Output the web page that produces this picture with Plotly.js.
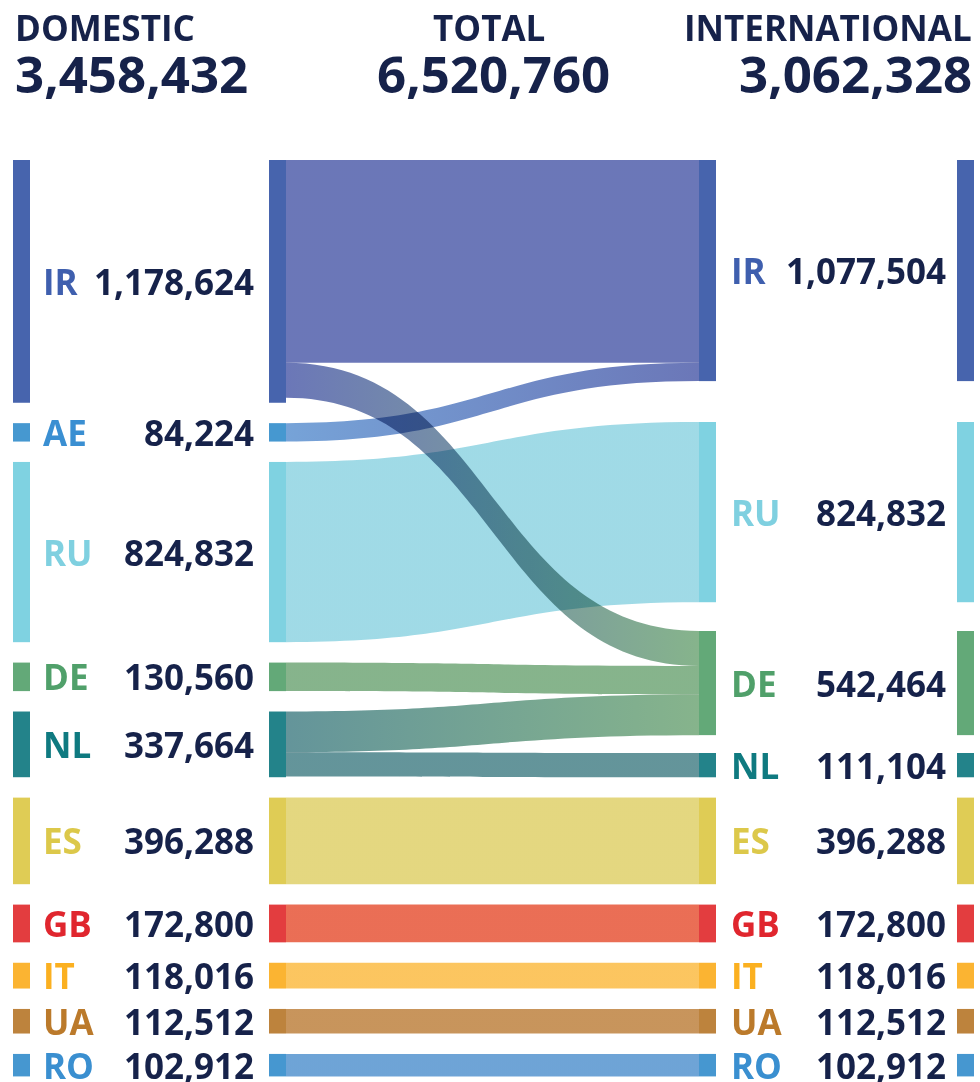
<!DOCTYPE html>
<html><head><meta charset="utf-8">
<script src="https://cdn.plot.ly/plotly-3.0.1.min.js"></script>
<style>html,body{margin:0;padding:0;background:#fff;} #chart{width:980px;height:1082px;}</style>
</head><body><div id="chart"></div>
<script>
// ---------------- data ----------------
const countries = ['IR','AE','RU','DE','NL','ES','GB','IT','UA','RO'];
const domesticLabels = ['1,178,624','84,224','824,832','130,560','337,664','396,288','172,800','118,016','112,512','102,912'];
const intlCountries = ['IR','RU','DE','NL','ES','GB','IT','UA','RO'];
const intlLabels = ['1,077,504','824,832','542,464','111,104','396,288','172,800','118,016','112,512','102,912'];
// domestic bar sizes
const domesticValues = [1111000, 84224, 824832, 130560, 300700, 396288, 172800, 118016, 112512, 102912];
const flowSource = ['IR','IR','AE','RU','DE','NL','NL','ES','GB','IT','UA','RO'];
const flowTarget = ['IR','DE','IR','RU','DE','DE','NL','ES','GB','IT','UA','RO'];
const flowValues = [927700, 160000, 84224, 824832, 130560, 186000, 111104, 396288, 172800, 118016, 112512, 102912];
const headerTitles = ['DOMESTIC','TOTAL','INTERNATIONAL'];
const headerValues = ['3,458,432','6,520,760','3,062,328'];

// ---------------- styles ----------------
const nodeColors = {IR:'#4764ad',AE:'#4698d0',RU:'#7fd2e1',DE:'#63a978',NL:'#23838a',ES:'#dfcc55',GB:'#e33d3f',IT:'#fbb432',UA:'#bd833d',RO:'#4697d0'};
const labelColors = {IR:'#3f5fae',AE:'#3a8fd2',RU:'#7fd0e0',DE:'#50a06a',NL:'#0f7a80',ES:'#dcc84a',GB:'#e0262e',IT:'#fbb020',UA:'#bb7a2b',RO:'#3a8fd0'};
const linkColors = {IR:'#4655a6',AE:'#548cce',RU:'#88d1e0',DE:'#68a16f',NL:'#3d7a81',ES:'#ddcd60',GB:'#e54a2b',IT:'#fbb738',UA:'#ba7a33',RO:'#4a8dcc'};
const navy = '#16224a';
const W = 980, H = 1082;
const pxPerUnit = 2.185e-4;
const topPx = 160, gapPx = 20.4, thick = 17;
const colCenters = [21.5, 277.5, 707.5, 965.5];
const rightTopOverride = {IR:160, RU:422, DE:631, NL:753};

// ---------------- build sankey ----------------
const outSum = {}, inSum = {};
flowSource.forEach((s,i)=>{ outSum[s]=(outSum[s]||0)+flowValues[i]; const t=flowTarget[i]; inSum[t]=(inSum[t]||0)+flowValues[i]; });
const leftVal = countries.map((c,i)=>Math.max(domesticValues[i], outSum[c]||0));
const rightVal = intlCountries.map(c=>inSum[c]);

const leftTop = {}, leftCenter = {};
let y = topPx;
countries.forEach((c,i)=>{ const h = leftVal[i]*pxPerUnit; leftTop[c]=y; leftCenter[c]=y+h/2; y += h + gapPx; });
const rightCenter = {};
intlCountries.forEach((c,j)=>{ const t = (c in rightTopOverride) ? rightTopOverride[c] : leftTop[c]; rightCenter[c] = t + rightVal[j]*pxPerUnit/2; });

const nL = countries.length, nR = intlCountries.length;
const nodeX = [], nodeY = [], nodeCol = [], nodeLab = [];
countries.forEach(c=>{ nodeX.push(colCenters[0]/W); nodeY.push(leftCenter[c]/H); nodeCol.push(nodeColors[c]); nodeLab.push(''); });
countries.forEach(c=>{ nodeX.push(colCenters[1]/W); nodeY.push(leftCenter[c]/H); nodeCol.push(nodeColors[c]); nodeLab.push(''); });
intlCountries.forEach(c=>{ nodeX.push(colCenters[2]/W); nodeY.push(rightCenter[c]/H); nodeCol.push(nodeColors[c]); nodeLab.push(''); });
intlCountries.forEach(c=>{ nodeX.push(colCenters[3]/W); nodeY.push(rightCenter[c]/H); nodeCol.push(nodeColors[c]); nodeLab.push(''); });

const src=[], tgt=[], val=[], lcol=[], linkMeta=[];
countries.forEach((c,i)=>{ src.push(i); tgt.push(nL+i); val.push(leftVal[i]); lcol.push('rgba(0,0,0,0)'); linkMeta.push(null); });
flowSource.forEach((s,i)=>{ const t=flowTarget[i]; src.push(nL+countries.indexOf(s)); tgt.push(2*nL+intlCountries.indexOf(t)); val.push(flowValues[i]); lcol.push(linkColors[s]); linkMeta.push([linkColors[s], linkColors[t]]); });
intlCountries.forEach((c,j)=>{ src.push(2*nL+j); tgt.push(2*nL+nR+j); val.push(rightVal[j]); lcol.push('rgba(0,0,0,0)'); linkMeta.push(null); });

const S0 = leftVal.reduce((a,b)=>a+b,0);
const pad = (H - pxPerUnit*S0)/(nL-1);

const data = [{
  type:'sankey', arrangement:'fixed', orientation:'h',
  domain:{x:[0,1], y:[0,1]},
  hoverinfo:'none',
  node:{ label:nodeLab, x:nodeX, y:nodeY, color:nodeCol, thickness:thick, pad:pad, line:{width:0}, hoverinfo:'none' },
  link:{ source:src, target:tgt, value:val, color:lcol, line:{width:0}, hoverinfo:'none' }
}];

// ---------------- text ----------------
const ann = [];
const font = (size,color)=>({family:'Open Sans', size:size, color:color, weight:700});
function addText(text,xpx,ypx,xanchor,size,color){
  ann.push({text:text, xref:'paper', yref:'paper', x:xpx/W, y:1-ypx/H, xanchor:xanchor, yanchor:'middle', showarrow:false, borderpad:0, borderwidth:0, font:font(size,color)});
}
countries.forEach((c,i)=>{ addText(c, 43, leftCenter[c], 'left', 35, labelColors[c]); addText(domesticLabels[i], 253.5, leftCenter[c], 'right', 35, navy); });
intlCountries.forEach((c,j)=>{ addText(c, 731, rightCenter[c], 'left', 35, labelColors[c]); addText(intlLabels[j], 946, rightCenter[c], 'right', 35, navy); });
addText(headerTitles[0], 15, 28, 'left', 35, navy);
addText(headerTitles[1], 489, 28, 'center', 35, navy);
addText(headerTitles[2], 972, 28, 'right', 35, navy);
addText(headerValues[0], 15, 72.5, 'left', 51, navy);
addText(headerValues[1], 493, 72.5, 'center', 51, navy);
addText(headerValues[2], 972, 72.5, 'right', 51, navy);

const layout = { width:W, height:H, margin:{l:0,r:0,t:0,b:0}, paper_bgcolor:'#fff', plot_bgcolor:'#fff', annotations:ann, font:{family:'Open Sans'} };

Plotly.newPlot('chart', data, layout, {staticPlot:true, displayModeBar:false}).then(gd=>{
  const ns='http://www.w3.org/2000/svg';
  const svg = gd.querySelector('.main-svg');
  let defs = svg.querySelector('defs');
  if(!defs){ defs=document.createElementNS(ns,'defs'); svg.insertBefore(defs, svg.firstChild); }
  gd.querySelectorAll('.sankey-link').forEach((p,i)=>{
    const d = p.__data__;
    const idx = (d && d.link && d.link.pointNumber!=null) ? d.link.pointNumber : i;
    const m = linkMeta[idx];
    if(!m) return;
    const g = document.createElementNS(ns,'linearGradient');
    g.setAttribute('id','lg'+idx);
    g.setAttribute('x1','0'); g.setAttribute('x2','1'); g.setAttribute('y1','0'); g.setAttribute('y2','0');
    [[0,m[0]],[1,m[1]]].forEach(([o,c])=>{ const s=document.createElementNS(ns,'stop'); s.setAttribute('offset',o); s.setAttribute('stop-color',c); g.appendChild(s); });
    defs.appendChild(g);
    p.style.fill = 'url(#lg'+idx+')';
    p.style.fillOpacity = '0.8';
    p.style.mixBlendMode = 'multiply';
  });
});
</script>
</body></html>
